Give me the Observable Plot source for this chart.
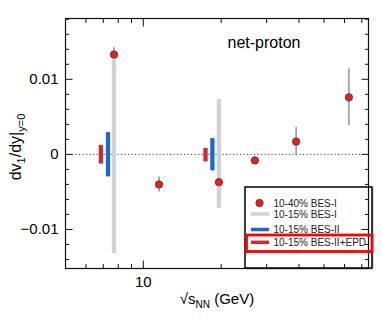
<!DOCTYPE html>
<html>
<head>
<meta charset="utf-8">
<script src="https://cdn.jsdelivr.net/npm/d3@7"></script>
<script src="https://cdn.jsdelivr.net/npm/@observablehq/plot@0.6"></script>
<style>
  html, body { margin: 0; padding: 0; background: #fff; }
  svg { display: block; }
</style>
</head>
<body>
<div id="chart"></div>
<script>
// --- data ---
const energies = [7.7, 11.5, 19.6, 27, 39, 62.4];           // sqrt(sNN), GeV
const bes1Values = [0.0133, -0.0040, -0.0037, -0.0008, 0.0017, 0.0076]; // 10-40% BES-I
const bes1Errors = [0.0009, 0.0010, 0.0008, 0.0005, 0.0019, 0.0038];

const grayX = [7.7, 19.6];          // 10-15% BES-I
const grayLo = [-0.0132, -0.0072];
const grayHi = [0.0132, 0.0073];

const blueX = [7.3, 18.5];          // 10-15% BES-II (drawn slightly offset)
const blueLo = [-0.0030, -0.0022];
const blueHi = [0.0029, 0.0021];

const epdX = [6.85, 17.4];          // 10-15% BES-II+EPD (drawn slightly offset)
const epdLo = [-0.0013, -0.0010];
const epdHi = [0.0012, 0.0008];

const xMajorTicks = [10];
const xMinorTicks = [6, 7, 8, 9, 20, 30, 40, 50, 60, 70];
const yMajorTicks = [-0.01, 0, 0.01];
const yMinorTicks = [-0.014, -0.012, -0.008, -0.006, -0.004, -0.002, 0.002, 0.004, 0.006, 0.008, 0.012, 0.014, 0.016, 0.018];

const legendLabels = ["10-40% BES-I", "10-15% BES-I", "10-15% BES-II", "10-15% BES-II+EPD"];
const annotation = "net-proton";

// --- tables ---
const points = energies.map((x, i) => ({x, y: bes1Values[i], lo: bes1Values[i] - bes1Errors[i], hi: bes1Values[i] + bes1Errors[i]}));
const gray = grayX.map((x, i) => ({x, lo: grayLo[i], hi: grayHi[i]}));
const blue = blueX.map((x, i) => ({x, lo: blueLo[i], hi: blueHi[i]}));
const epd = epdX.map((x, i) => ({x, lo: epdLo[i], hi: epdHi[i]}));

const FONT = "'Liberation Sans', Arial, Helvetica, sans-serif";
const fmtY = d => d === 0 ? "0" : (d < 0 ? "\u2212" : "") + Math.abs(d);
const blank = () => "";

const COL = {red: "#f21c1c", gray: "#d2d2d2", blue: "#1c68cf", epd: "#d02a2e", err: "#9a9a9a"};

const plot = Plot.plot({
  width: 382,
  height: 325,
  marginLeft: 65,
  marginRight: 14,
  marginTop: 18,
  marginBottom: 57,
  style: {fontFamily: FONT, background: "#fff", overflow: "visible"},
  x: {type: "log", domain: [5, 74.3]},
  y: {domain: [-0.0152, 0.0181]},
  marks: [
    Plot.ruleY([0], {stroke: "#444", strokeWidth: 1, strokeDasharray: "1.2,2.3"}),
    Plot.ruleX(points, {x: "x", y1: "lo", y2: "hi", stroke: COL.err, strokeWidth: 1.6}),
    Plot.ruleX(gray, {x: "x", y1: "lo", y2: "hi", stroke: COL.gray, strokeWidth: 4.3}),
    Plot.ruleX(blue, {x: "x", y1: "lo", y2: "hi", stroke: COL.blue, strokeWidth: 4.3}),
    Plot.ruleX(epd, {x: "x", y1: "lo", y2: "hi", stroke: COL.epd, strokeWidth: 4.3}),
    Plot.dot(points, {x: "x", y: "y", r: 3.7, fill: COL.red, stroke: "#3a3a3a", strokeWidth: 0.8}),
    Plot.frame({stroke: "#111", strokeWidth: 1.2}),
    // tick labels
    Plot.axisX(xMajorTicks, {anchor: "bottom", tickSize: 0, tickPadding: 8, tickFormat: d => String(d), fontSize: 15, fill: "#000", label: null}),
    Plot.axisY(yMajorTicks, {anchor: "left", tickSize: 0, tickPadding: 7, tickFormat: fmtY, fontSize: 15, fill: "#000", label: null}),
    // inward ticks
    Plot.axisX(xMajorTicks, {anchor: "bottom", tickSize: -7.5, tickFormat: blank, label: null, stroke: "#111"}),
    Plot.axisX(xMinorTicks, {anchor: "bottom", tickSize: -4, tickFormat: blank, label: null, stroke: "#111"}),
    Plot.axisX(xMajorTicks, {anchor: "top", tickSize: -7.5, tickFormat: blank, label: null, stroke: "#111"}),
    Plot.axisX(xMinorTicks, {anchor: "top", tickSize: -4, tickFormat: blank, label: null, stroke: "#111"}),
    Plot.axisY(yMajorTicks, {anchor: "left", tickSize: -7.5, tickFormat: blank, label: null, stroke: "#111"}),
    Plot.axisY(yMinorTicks, {anchor: "left", tickSize: -4, tickFormat: blank, label: null, stroke: "#111"}),
    Plot.axisY(yMajorTicks, {anchor: "right", tickSize: -7.5, tickFormat: blank, label: null, stroke: "#111"}),
    Plot.axisY(yMinorTicks, {anchor: "right", tickSize: -4, tickFormat: blank, label: null, stroke: "#111"}),
    Plot.text([annotation], {frameAnchor: "top", dx: 47, dy: 24, fontSize: 16, fill: "#000", lineAnchor: "middle"})
  ]
});

const svg = d3.select(plot);

// y-axis title with subscripts
const yt = svg.append("text")
  .attr("transform", "translate(21,147) rotate(-90)")
  .attr("text-anchor", "middle")
  .attr("font-family", FONT)
  .attr("font-size", 16)
  .attr("fill", "#000");
yt.append("tspan").text("dv");
yt.append("tspan").attr("font-size", 11).attr("dy", 4).text("1");
yt.append("tspan").attr("dy", -4).text("/dy|");
yt.append("tspan").attr("font-size", 11).attr("dy", 4).text("y=0");

// x-axis title
const xt = svg.append("text")
  .attr("x", 217)
  .attr("y", 304)
  .attr("text-anchor", "middle")
  .attr("font-family", FONT)
  .attr("font-size", 15)
  .attr("fill", "#000");
xt.append("tspan").text("\u221As");
xt.append("tspan").attr("font-size", 10).attr("dy", 4).text("NN");
xt.append("tspan").attr("dy", -4).text(" (GeV)");

// legend box goes beneath the plot marks (frame ticks show through, as in the reference)
const lbox = svg.insert("g", ":first-child");
lbox.append("rect").attr("x", 246.5).attr("y", 188.5).attr("width", 127).attr("height", 81).attr("fill", "#c4c4c4");
lbox.append("rect").attr("x", 245).attr("y", 187).attr("width", 127).attr("height", 81).attr("fill", "#fff").attr("stroke", "#000").attr("stroke-width", 1.5);

const lg = svg.append("g").attr("font-family", FONT).attr("font-size", 10).attr("text-anchor", "start");
const rowsY = [203, 214, 229.5, 242.3];
lg.append("circle").attr("cx", 259.5).attr("cy", rowsY[0]).attr("r", 3.7).attr("fill", COL.red).attr("stroke", "#3a3a3a").attr("stroke-width", 0.8);
[[COL.gray, 1], [COL.blue, 2], [COL.epd, 3]].forEach(([c, i]) => {
  lg.append("line").attr("x1", 251).attr("x2", 269).attr("y1", rowsY[i]).attr("y2", rowsY[i]).attr("stroke", c).attr("stroke-width", 3.5);
});
legendLabels.forEach((t, i) => {
  lg.append("text").attr("x", 273.5).attr("y", rowsY[i]).attr("dy", "0.35em").attr("text-anchor", "start").attr("fill", "#222").text(t);
});
lg.append("rect").attr("x", 246.5).attr("y", 235).attr("width", 125.5).attr("height", 16.5).attr("fill", "none").attr("stroke", "#f00").attr("stroke-width", 2.8);

document.getElementById("chart").appendChild(plot);
</script>
</body>
</html>
